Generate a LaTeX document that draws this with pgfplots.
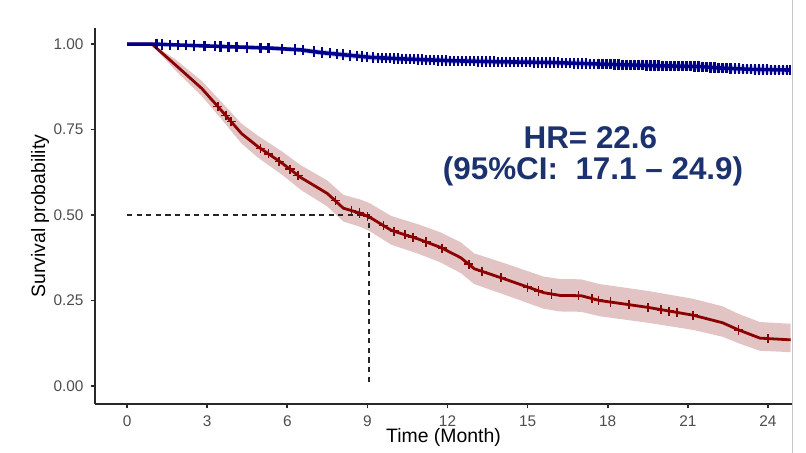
\documentclass[border=0pt]{standalone}
\usepackage{fontspec}
\setmainfont{Liberation Sans}
\usepackage{pgfplots}
\usepackage{pgfplotstable}
\pgfplotsset{compat=1.18}
\usepgfplotslibrary{fillbetween}
\definecolor{kmred}{RGB}{139,0,0}
\definecolor{kmblue}{RGB}{0,0,139}
\definecolor{bandred}{RGB}{226,196,196}
\definecolor{bandblue}{RGB}{208,208,242}
\definecolor{hrcol}{RGB}{28,50,110}
\definecolor{ticktext}{RGB}{77,77,77}
\definecolor{axcol}{RGB}{40,40,40}

\pgfplotstableread{
t     s     lo     hi
0     1.000 1.000  1.000
0.93  1.000 0.997  1.000
1.8   0.940 0.924  0.956
2.8   0.870 0.848  0.892
3.54  0.805 0.780  0.830
4.29  0.738 0.709  0.767
4.9   0.700 0.668  0.732
5.8   0.652 0.618  0.686
6.5   0.610 0.574  0.646
7.5   0.563 0.525  0.601
8.1   0.520 0.481  0.559
8.75  0.505 0.465  0.545
9.1   0.493 0.452  0.534
9.9   0.455 0.413  0.497
10.9  0.430 0.387  0.473
11.75 0.405 0.361  0.449
12.5  0.375 0.330  0.420
13.0  0.343 0.298  0.388
14.1  0.314 0.268  0.360
15.6  0.273 0.226  0.320
16.2  0.265 0.218  0.313
17.0  0.264 0.217  0.312
17.7  0.250 0.204  0.298
19.5  0.230 0.185  0.278
21.2  0.207 0.164  0.255
22.3  0.185 0.144  0.233
22.9  0.164 0.125  0.211
23.7  0.140 0.103  0.187
24.85 0.135 0.099  0.182
}\redtab

\pgfplotstableread{
t    s
3.4   0.817
3.7   0.791
3.9   0.773
5.0   0.695
5.3   0.679
5.7   0.657
6.1   0.634
6.4   0.616
7.8   0.542
8.4   0.513
8.7   0.506
9.0   0.496
9.6   0.469
10.0  0.4525
10.4  0.4425
10.7  0.435
11.2  0.421
11.8  0.403
12.8  0.356
13.3  0.335
14.0  0.317
15.0  0.289
15.4  0.278
15.9  0.269
16.9  0.264
17.4  0.256
17.65 0.251
18.1  0.2456
18.8  0.238
19.5  0.230
20.0  0.223
20.3  0.219
20.6  0.215
21.2  0.207
22.9  0.164
24.0  0.139
}\redcens

\pgfplotstableread{
t     s     lo     hi
0     1.000 1.000  1.000
1.0   1.000 0.998  1.000
2.0   0.997 0.993  1.000
3.54  0.993 0.988  0.998
5.41  0.988 0.982  0.994
6.5   0.983 0.976  0.990
7.28  0.975 0.967  0.983
8.2   0.968 0.959  0.977
9.14  0.961 0.952  0.970
10.5  0.956 0.947  0.965
12.24 0.951 0.942  0.960
14.0  0.948 0.939  0.957
15.9  0.946 0.937  0.955
17.5  0.942 0.932  0.952
19.6  0.937 0.927  0.947
21.5  0.934 0.923  0.945
22.2  0.930 0.919  0.941
23.4  0.926 0.914  0.938
24.85 0.924 0.912  0.936
}\bluetab

\pgfplotstableread{
t    s
1.1  1.000
1.3  0.999
1.6  0.998
1.9  0.997
2.2  0.9965
2.5  0.996
2.9  0.995
3.3  0.994
3.5  0.993
3.8  0.992
4.1  0.992
4.5  0.990
5.0  0.989
5.3  0.988
5.8  0.986
6.3  0.984
6.6  0.982
7.0  0.978
7.3  0.975
7.6  0.973
7.85 0.971
8.1  0.969
8.35 0.967
8.6  0.965
8.8  0.9635
9.0  0.962
9.2  0.961
9.4  0.960
9.55 0.9595
9.7  0.959
9.85 0.9585
10.0 0.958
10.15 0.9575
10.3 0.957
10.45 0.9565
10.6 0.956
10.75 0.9555
10.9 0.955
11.05 0.9545
11.2 0.954
11.35 0.9535
11.5 0.953
11.65 0.9525
11.8 0.952
11.95 0.9515
12.1 0.951
12.25 0.951
12.4 0.951
12.55 0.9505
12.7 0.950
12.85 0.950
13.0 0.950
13.15 0.9495
13.3 0.949
13.45 0.949
13.6 0.949
13.75 0.9485
13.9 0.948
14.05 0.948
14.2 0.948
14.35 0.9475
14.5 0.947
14.65 0.947
14.8 0.947
14.95 0.947
15.1 0.947
15.25 0.9465
15.4 0.946
15.55 0.946
15.7 0.946
15.85 0.946
16.0 0.946
16.15 0.9455
16.3 0.945
16.45 0.9445
16.6 0.944
16.75 0.9435
16.9 0.943
17.05 0.943
17.2 0.943
17.35 0.9425
17.5 0.942
17.65 0.9415
17.8 0.941
17.95 0.941
18.1 0.941
18.25 0.9405
18.4 0.940
18.55 0.9395
18.7 0.939
18.85 0.9385
19.0 0.938
19.15 0.938
19.3 0.938
19.45 0.9375
19.6 0.937
19.75 0.937
19.9 0.937
20.05 0.9365
20.2 0.936
20.35 0.936
20.5 0.936
20.65 0.9355
20.8 0.935
20.95 0.935
21.1 0.935
21.25 0.9345
21.4 0.934
21.55 0.9335
21.7 0.933
21.85 0.932
22.0 0.931
22.15 0.9305
22.3 0.930
22.45 0.9295
22.6 0.929
22.75 0.9285
22.9 0.928
23.05 0.9275
23.2 0.927
23.35 0.9265
23.5 0.926
23.65 0.926
23.8 0.926
23.95 0.9255
24.1 0.925
24.25 0.925
24.4 0.925
24.55 0.9245
24.7 0.924
24.82 0.924
}\bluecens

\begin{document}
\begin{tikzpicture}
\begin{axis}[
  at={(0,0)}, anchor=south west,
  scale only axis,
  width=348.5pt, height=188pt,
  xmin=-1.2, xmax=24.9,
  ymin=-0.0526, ymax=1.047,
  axis x line*=bottom, axis y line*=left,
  axis line style={axcol, line width=0.8pt, -},
  xtick={0,3,...,24},
  ytick={0,0.25,0.5,0.75,1},
  tick align=outside,
  major tick length=2.2pt,
  tick style={axcol, line width=0.8pt},
  /pgf/number format/assume math mode=true,
  yticklabel style={/pgf/number format/.cd, fixed, fixed zerofill, precision=2},
  tick label style={font=\fontsize{7.7}{9}\selectfont, text=ticktext},
  xlabel={Time (Month)},
  ylabel={Survival probability},
  label style={font=\fontsize{9.7}{11}\selectfont, text=black},
  xlabel style={at={(axis description cs:0.5,0)}, anchor=center, yshift=-16.5pt},
  ylabel style={at={(axis description cs:0,0.5)}, anchor=center, yshift=27.5pt},
  clip=true,
]
% bands
\addplot[name path=rhi, draw=none, forget plot] table[x=t, y=hi]{\redtab};
\addplot[name path=rlo, draw=none, forget plot] table[x=t, y=lo]{\redtab};
\addplot[bandred, draw=none, forget plot] fill between[of=rhi and rlo];
\addplot[name path=bhi, draw=none, forget plot] table[x=t, y=hi]{\bluetab};
\addplot[name path=blo, draw=none, forget plot] table[x=t, y=lo]{\bluetab};
\addplot[bandblue, draw=none, forget plot] fill between[of=bhi and blo];
% median lines
\addplot[black!85, line width=0.8pt, dash pattern=on 2.6pt off 2.2pt] coordinates {(0,0.5) (9.05,0.5) (9.05,0)};
% red curve
\addplot[kmred, line width=1.4pt] table[x=t, y=s]{\redtab};
\addplot[kmred, only marks, mark=+, mark size=2.3pt, mark options={line width=0.8pt}] table[x=t, y=s]{\redcens};
% blue curve
\addplot[kmblue, line width=1.8pt] table[x=t, y=s]{\bluetab};
\addplot[kmblue, only marks, mark=|, mark size=2.6pt, mark options={line width=1.1pt}] table[x=t, y=s]{\bluecens};
% HR text
\node[font=\fontsize{15.7}{18}\bfseries\selectfont, text=hrcol] at (axis cs:17.35,0.725) {HR= 22.6};
\node[font=\fontsize{15.7}{18}\bfseries\selectfont, text=hrcol] at (axis cs:17.45,0.627) {(95\%CI:\ \ 17.1 -- 24.9)};
\end{axis}
\draw[gray!45, line width=0.5pt] (348.5pt,-24.5pt) -- (348.5pt,202pt);
\pgfresetboundingbox
\path[use as bounding box] (-47.5pt,-24.5pt) rectangle (355.5pt,202pt);
\end{tikzpicture}
\end{document}
